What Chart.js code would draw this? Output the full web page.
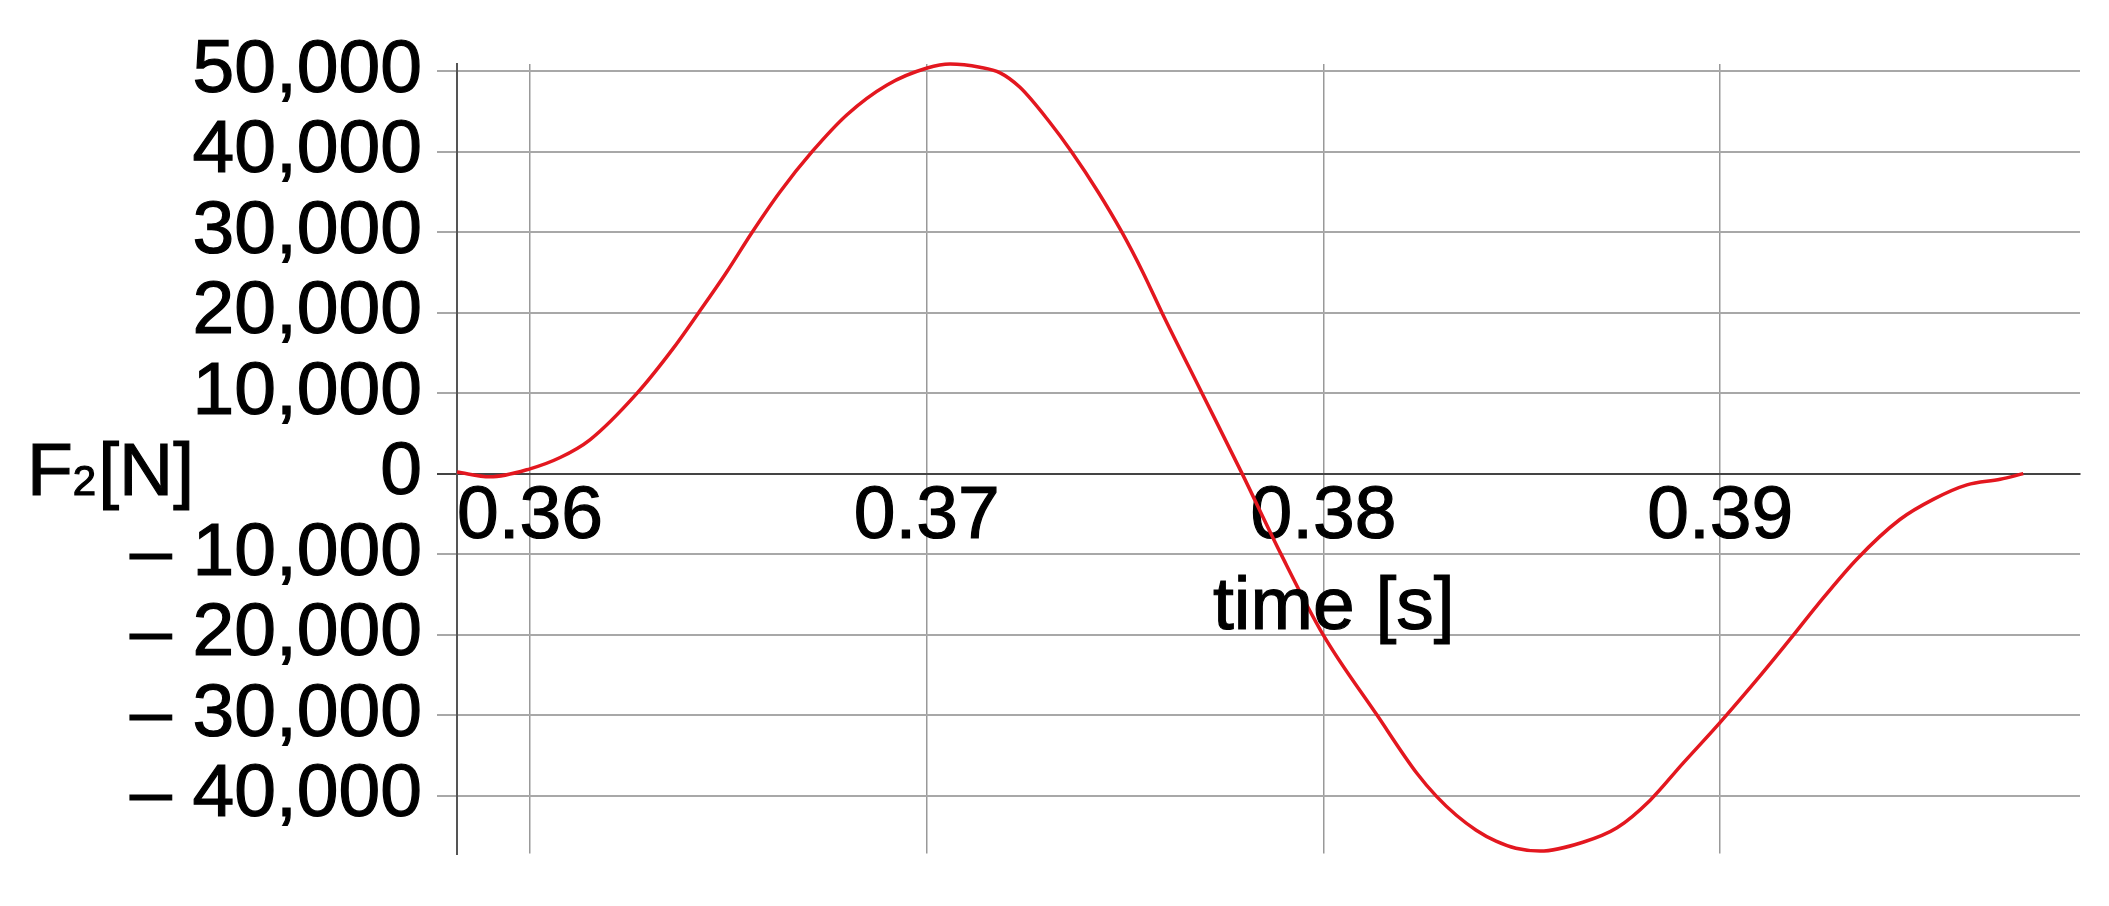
<!DOCTYPE html>
<html>
<head>
<meta charset="utf-8">
<title>F2 vs time</title>
<script src="https://cdn.jsdelivr.net/npm/chart.js@4.4.0/dist/chart.umd.min.js"></script>
<style>
  html, body { margin: 0; padding: 0; background: #fff; }
  #wrap { width: 2109px; height: 906px; position: relative; }
</style>
</head>
<body>
<div id="wrap"><canvas id="myChart"></canvas></div>
<script>
// time [s]
const times = [
  0.35816, 0.35899, 0.36000, 0.36076, 0.36151, 0.36270, 0.36360, 0.36425,
  0.36495, 0.36560, 0.36630, 0.36711, 0.36799, 0.36900, 0.37001, 0.37059,
  0.37134, 0.37185, 0.37235, 0.37311, 0.37365, 0.37432, 0.37492, 0.37545,
  0.37593, 0.37694, 0.37795, 0.37893, 0.37999, 0.38135, 0.38235, 0.38285,
  0.38335, 0.38385, 0.38435, 0.38485, 0.38546, 0.38654, 0.38740, 0.38823,
  0.38906, 0.39000, 0.39101, 0.39184, 0.39244, 0.39345, 0.39453, 0.39537,
  0.39622, 0.39706, 0.39764
];
// F2 [N]
const forces = [
  200, -400, 600, 2000, 4200, 10000, 15500, 20000,
  25000, 30000, 35000, 40000, 44600, 48300, 50400, 50900,
  50500, 49800, 48000, 43600, 40000, 35000, 30000, 25000,
  20000, 10000, 0, -10000, -20000, -30000, -37200, -40100,
  -42450, -44300, -45670, -46550, -46900, -45800, -44000, -40600,
  -36000, -30900, -25100, -20100, -16400, -10600, -5700, -3200,
  -1400, -700, 0
];
const xTicks = [0.36, 0.37, 0.38, 0.39];
const yTicks = [-40000, -30000, -20000, -10000, 0, 10000, 20000, 30000, 40000, 50000];
const xRange = [0.35816, 0.39907];
const yRange = [-47200, 50900];

const FONT = "'Liberation Sans', Arial, sans-serif";

function fmtForce(v) {
  if (v < 0) return "\u2013 " + Math.abs(v).toLocaleString("en-US");
  return v.toLocaleString("en-US");
}

// axis titles (F2 with a small 2, and time [s] beside the zero line)
const axisLabels = {
  id: "axisLabels",
  afterDraw(chart) {
    const ctx = chart.ctx;
    const zero = chart.scales.y.getPixelForValue(0);
    ctx.save();
    ctx.fillStyle = "#000";
    ctx.strokeStyle = "#000";
    ctx.lineWidth = 1.2;
    ctx.textAlign = "left";
    ctx.textBaseline = "alphabetic";
    const put = (txt, x, y) => {
      ctx.fillText(txt, x, y);
      ctx.strokeText(txt, x, y);
      return ctx.measureText(txt).width;
    };
    let x = 27;
    const y = zero + 21;
    ctx.font = "75px " + FONT;
    x += put("F", x, y);
    ctx.font = "42px " + FONT;
    x += put("2", x, y) + 2;
    ctx.font = "75px " + FONT;
    put("[N]", x, y);

    put("time [s]", 1213, zero + 155);
    ctx.restore();
  }
};

const ctx = document.getElementById("myChart").getContext("2d");
const chart = new Chart(ctx, {
  type: "line",
  data: {
    datasets: [
      {
        label: "F2",
        data: times.map((t, i) => ({ x: t, y: forces[i] })),
        borderColor: "#e3171f",
        borderWidth: 3.5,
        pointRadius: 0,
        fill: false,
        cubicInterpolationMode: "monotone",
        clip: false,
      },
    ],
  },
  options: {
    responsive: true,
    maintainAspectRatio: false,
    devicePixelRatio: 1,
    animation: false,
    layout: { padding: { top: 64, right: 29, bottom: 48, left: 0 } },
    plugins: { legend: { display: false }, tooltip: { enabled: false } },
    scales: {
      x: {
        type: "linear",
        position: { y: 0 },
        min: xRange[0],
        max: xRange[1],
        afterBuildTicks: (scale) => {
          scale.ticks = xTicks.map((v) => ({ value: v }));
        },
        ticks: {
          color: "#000",
          textStrokeColor: "#000",
          textStrokeWidth: 1.2,
          padding: 6,
          autoSkip: false,
          maxRotation: 0,
          font: { family: FONT, size: 75, lineHeight: 1 },
          callback: (v) => Number(v).toFixed(2),
        },
        grid: { color: "#999", lineWidth: 1.5, drawTicks: false },
        border: { color: "#444", width: 2 },
      },
      y: {
        type: "linear",
        min: yRange[0],
        max: yRange[1],
        afterBuildTicks: (scale) => {
          scale.ticks = yTicks.map((v) => ({ value: v }));
        },
        afterFit: (scale) => {
          scale.width = 457;
        },
        ticks: {
          color: "#000",
          textStrokeColor: "#000",
          textStrokeWidth: 1.2,
          padding: 15,
          autoSkip: false,
          font: { family: FONT, size: 75, lineHeight: 1 },
          callback: (v) => fmtForce(v),
        },
        grid: {
          color: (c) => (c.tick && c.tick.value === 0 ? "#444" : "#a8a8a8"),
          lineWidth: 2,
          tickLength: 20,
        },
        border: { color: "#555", width: 2 },
      },
    },
  },
  plugins: [axisLabels],
});
</script>
</body>
</html>
